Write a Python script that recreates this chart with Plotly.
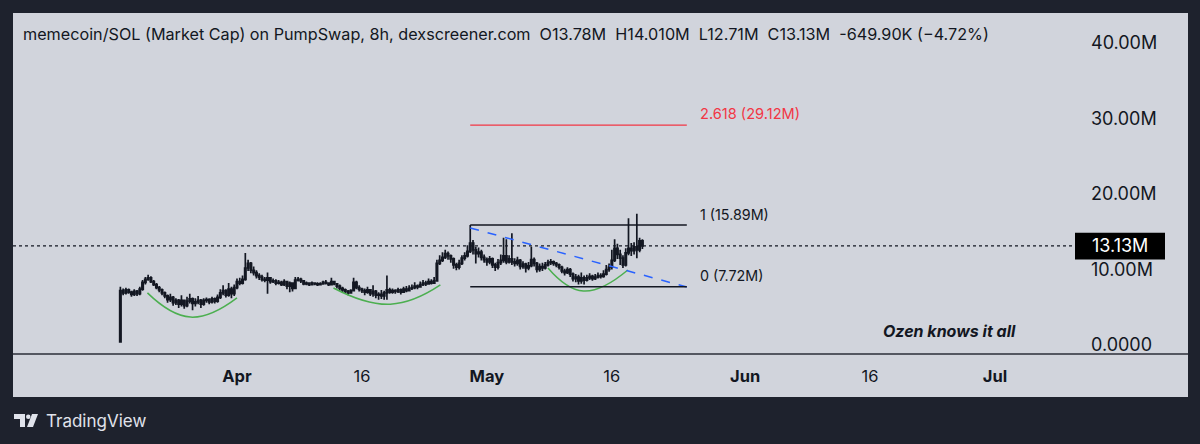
import plotly.graph_objects as go
import pandas as pd

# ---------------- DATA (values in millions, 8h candles) ----------------
start_time = "2025-03-18 00:00"
first_open = 0.4

close = [
    7.2, 6.9, 7.3,  7.0, 6.7, 7.1,  6.8, 7.4, 8.3,  8.7, 8.9, 8.4,  8.0, 7.6, 7.3,
    6.9, 6.5, 6.0,  6.3, 5.6, 5.9,  5.4, 5.9, 5.2,  5.8, 6.1, 5.5,  5.7, 5.9, 5.4,
    5.9, 6.0, 5.7,  6.1, 5.8, 6.3,  6.9, 7.2, 6.6,  7.4, 6.8, 7.6,  8.4, 8.2, 8.7,
    10.2, 10.8, 9.9,  9.6, 9.2, 9.0,  8.7, 8.6, 8.9,  8.4, 8.5, 8.2,  8.3, 8.0, 8.4,
    7.8, 8.2, 7.5,  8.6, 8.7, 8.5,  8.1, 8.2, 8.0,  8.2, 8.1, 8.0,  8.1, 8.3, 8.2,
    8.0, 8.4, 8.1,  7.8, 7.5, 7.3,  7.1, 6.9, 7.2,  8.3, 7.6, 7.4,  7.2, 7.0, 7.3,
    6.8, 7.1, 6.6,  6.7, 6.5, 6.9,  7.3, 7.0, 7.2,  7.1, 7.3, 7.0,  7.4, 7.2, 7.5,
    7.6, 7.8, 7.7,  8.0, 8.2, 8.1,  8.4, 8.2, 8.5,  10.8, 11.2, 11.6,  12.1, 11.8, 11.4,
    10.6, 10.3, 10.8,  11.5, 11.8, 12.4,  13.5, 12.6, 12.1,  12.3, 11.6, 11.3,
    11.0, 11.4, 10.6,  10.3, 10.9, 11.2,  11.8, 11.0, 11.4,  11.0, 10.8, 11.2,
    10.4, 10.7, 10.2,  10.5, 11.3, 10.8,  10.0, 10.4, 10.2,  10.6, 10.9, 11.0,
    10.8, 10.6, 10.3,  9.8, 9.6, 10.0,  9.4, 8.8, 9.0,  8.5, 8.9, 8.6,
    8.9, 9.1, 8.8,  9.0, 9.2, 9.1,  9.4, 10.0, 10.3,  11.2, 12.8, 12.0,
    11.5, 10.6, 12.2,  12.8, 12.5, 13.0,  12.6, 13.78, 13.13,
]
high = [
    7.7, 7.5, 7.6,  7.5, 7.2, 7.4,  7.3, 7.7, 8.6,  9.0, 9.3, 9.1,  8.6, 8.2, 7.8,
    7.5, 7.1, 6.7,  6.8, 6.5, 6.2,  6.1, 6.6, 6.0,  6.4, 6.8, 6.3,  6.2, 6.5, 6.1,
    6.2, 6.3, 6.2,  6.4, 6.3, 6.7,  7.4, 7.9, 7.4,  8.2, 7.7, 8.0,  8.8, 8.9, 9.2,
    12.2, 11.3, 11.0,  10.4, 9.9, 9.5,  9.3, 9.0, 9.6,  9.0, 8.8, 8.7,  8.6, 8.5, 8.7,
    8.5, 8.4, 8.3,  9.0, 9.0, 8.9,  8.6, 8.4, 8.3,  8.4, 8.3, 8.3,  8.3, 8.5, 8.6,
    8.3, 8.9, 8.5,  8.2, 8.0, 7.7,  7.5, 7.3, 7.4,  8.9, 8.5, 7.9,  7.6, 7.5, 7.7,
    7.4, 7.9, 7.3,  7.0, 7.3, 7.2,  9.2, 7.6, 7.5,  7.4, 7.6, 7.5,  7.7, 7.8, 7.9,
    8.0, 8.3, 8.0,  8.4, 8.6, 8.5,  8.8, 8.7, 9.0,  11.3, 11.9, 12.3,  12.6, 12.4, 12.0,
    11.6, 10.9, 11.3,  11.9, 12.3, 13.2,  15.89, 13.9, 13.0,  12.9, 12.6, 12.0,
    11.6, 11.8, 11.6,  10.9, 11.4, 12.0,  14.2, 14.0, 11.9,  14.8, 11.5, 11.7,
    11.4, 11.1, 10.9,  11.0, 13.0, 11.6,  11.0, 10.8, 10.9,  11.0, 11.3, 11.4,
    11.2, 11.0, 10.8,  10.5, 10.1, 10.3,  10.2, 9.6, 9.4,  9.3, 9.6, 9.2,
    9.3, 9.5, 9.3,  9.4, 9.6, 9.5,  9.9, 10.6, 10.8,  12.6, 14.0, 13.4,
    12.6, 11.9, 12.8,  16.8, 13.5, 13.6,  17.4, 14.2, 14.01,
]
low = [
    0.4, 6.6, 6.7,  6.8, 6.4, 6.5,  6.5, 6.6, 7.2,  8.0, 8.5, 8.2,  7.8, 7.4, 7.0,
    6.6, 6.2, 5.6,  5.7, 5.2, 5.3,  4.9, 5.1, 4.8,  5.0, 5.5, 4.6,  5.1, 5.4, 4.9,
    5.2, 5.6, 5.4,  5.5, 5.5, 5.6,  6.1, 6.6, 6.3,  6.4, 6.2, 6.5,  7.4, 7.9, 8.0,
    8.5, 9.8, 9.5,  9.2, 8.8, 8.6,  8.4, 8.3, 6.8,  8.1, 8.2, 7.9,  8.0, 7.8, 7.8,
    7.4, 7.0, 7.1,  7.4, 8.4, 8.2,  7.9, 7.9, 7.8,  7.9, 7.9, 7.8,  7.9, 8.0, 8.0,
    7.8, 7.9, 7.9,  7.5, 7.2, 7.0,  6.9, 6.6, 6.8,  7.1, 7.4, 7.1,  6.9, 6.6, 6.8,
    6.5, 6.4, 6.2,  6.0, 6.1, 6.0,  6.0, 6.8, 6.8,  6.8, 6.9, 6.7,  6.9, 7.0, 7.1,
    7.3, 7.4, 7.4,  7.6, 7.8, 7.8,  8.0, 8.0, 8.1,  8.4, 10.6, 11.0,  11.4, 11.3, 10.9,
    10.1, 9.9, 10.0,  10.6, 11.2, 11.6,  12.2, 12.0, 10.8,  11.6, 11.2, 10.9,
    10.5, 10.7, 10.2,  9.8, 10.0, 10.6,  10.9, 10.7, 10.8,  10.6, 10.4, 10.5,
    10.0, 10.1, 9.6,  9.9, 10.3, 10.4,  9.6, 9.7, 9.8,  10.0, 10.4, 10.6,
    10.5, 10.3, 10.0,  9.5, 9.2, 9.4,  9.0, 8.4, 8.3,  8.0, 8.1, 8.0,
    8.4, 8.6, 8.5,  8.6, 8.8, 8.8,  8.9, 9.2, 9.7,  10.0, 11.0, 11.4,
    10.6, 10.2, 10.4,  11.9, 11.8, 12.0,  11.5, 12.3, 12.71,
]

# drawing levels (from the chart's fib / trend tools)
fib_start, fib_end = "2025-04-29 00:00", "2025-05-25 00:00"
fib_levels = [15.89, 7.72]
fib_ext = 29.12
fib_labels = ["1 (15.89M)", "0 (7.72M)"]
fib_ext_label = "2.618 (29.12M)"
trend_x = ["2025-04-29 00:00", "2025-05-25 00:00"]
trend_y = [15.5, 7.68]
arcs = [
    (["2025-03-21 06:00", "2025-03-26 10:00", "2025-04-01 00:00"], [6.9, 3.7, 6.25]),
    (["2025-04-12 14:00", "2025-04-19 10:00", "2025-04-25 10:00"], [7.55, 5.4, 7.95]),
    (["2025-05-08 08:00", "2025-05-12 14:00", "2025-05-17 22:00"], [10.2, 7.15, 9.93]),
]
last_price = 13.13
y_tick_vals = [0, 10, 20, 30, 40]
y_tick_text = ["0.0000", "10.00M", "20.00M", "30.00M", "40.00M"]
x_tick_vals = ["2025-04-01", "2025-04-16", "2025-05-01", "2025-05-16",
               "2025-06-01", "2025-06-16", "2025-07-01"]
x_tick_text = ["<b>Apr</b>", "16", "<b>May</b>", "16", "<b>Jun</b>", "16", "<b>Jul</b>"]
title_text = ("memecoin/SOL (Market Cap) on PumpSwap, 8h, dexscreener.com\u00a0\u00a0"
              "O13.78M\u00a0\u00a0H14.010M\u00a0\u00a0L12.71M\u00a0\u00a0C13.13M\u00a0\u00a0"
              "-649.90K (\u22124.72%)")

# ---------------- FIGURE ----------------
times = pd.date_range(start_time, periods=len(close), freq="8h")
opens = [first_open] + close[:-1]

W, H = 1200, 444
L, R, T, B = 13, 125, 13, 90
PW, PH = W - L - R, H - T - B


def px(x):
    return (x - L) / PW


def py(y):
    return (H - B - y) / PH


INK = "#131722"
PANEL = "#d1d4dc"
FONT = "Inter, Roboto, Liberation Sans, sans-serif"

fig = go.Figure()
fig.add_trace(go.Candlestick(
    x=times, open=opens, high=high, low=low, close=close,
    increasing=dict(line=dict(color=INK, width=1.7), fillcolor=INK),
    decreasing=dict(line=dict(color=INK, width=1.7), fillcolor=INK),
    whiskerwidth=0, showlegend=False, hoverinfo="skip",
))

for ax_, ay_ in arcs:
    fig.add_trace(go.Scatter(x=ax_, y=ay_, mode="lines",
                             line=dict(color="#4caf50", width=1.5, shape="spline", smoothing=1.3),
                             showlegend=False, hoverinfo="skip"))
fig.add_trace(go.Scatter(x=trend_x, y=trend_y, mode="lines",
                         line=dict(color="#2962ff", width=1.5, dash="dash"),
                         showlegend=False, hoverinfo="skip"))

shapes = []
shapes.append(dict(type="rect", xref="paper", yref="paper", x0=px(13), x1=px(1188),
                   y0=py(397), y1=py(13), fillcolor=PANEL, line=dict(width=0), layer="below"))
shapes.append(dict(type="line", xref="paper", yref="paper", x0=px(13), x1=px(1188),
                   y0=0, y1=0, line=dict(color="#2a2e39", width=1.5)))
for lv in fib_levels:
    shapes.append(dict(type="line", xref="x", yref="y", x0=fib_start, x1=fib_end,
                       y0=lv, y1=lv, line=dict(color=INK, width=1.5)))
shapes.append(dict(type="line", xref="x", yref="y", x0=fib_start, x1=fib_end,
                   y0=fib_ext, y1=fib_ext, line=dict(color="#f23645", width=1.2)))
shapes.append(dict(type="line", xref="paper", yref="y", x0=0, x1=1, y0=last_price, y1=last_price,
                   line=dict(color=INK, width=1.2, dash="dot")))
shapes.append(dict(type="rect", xref="paper", yref="y", x0=1.0, x1=px(1165),
                   y0=last_price - 1.8, y1=last_price + 1.75,
                   fillcolor="#000000", line=dict(width=0)))
# TradingView logo (approx.)
shapes.append(dict(type="path", xref="paper", yref="paper",
                   path=(f"M {px(14)} {py(414)} L {px(25)} {py(414)} L {px(25)} {py(427)} "
                         f"L {px(20)} {py(427)} L {px(20)} {py(419)} L {px(14)} {py(419)} Z"),
                   fillcolor="#e0e3eb", line=dict(width=0)))
shapes.append(dict(type="circle", xref="paper", yref="paper",
                   x0=px(26), x1=px(30.5), y0=py(419), y1=py(414.5),
                   fillcolor="#e0e3eb", line=dict(width=0)))
shapes.append(dict(type="path", xref="paper", yref="paper",
                   path=(f"M {px(32)} {py(414)} L {px(38)} {py(414)} L {px(33)} {py(427)} "
                         f"L {px(27)} {py(427)} Z"),
                   fillcolor="#e0e3eb", line=dict(width=0)))

annotations = []
annotations.append(dict(xref="paper", yref="paper", x=px(21), y=py(34), text=title_text,
                        showarrow=False, xanchor="left", yanchor="middle",
                        font=dict(family=FONT, size=16.2, color=INK)))
for lv, lab in zip(fib_levels, fib_labels):
    annotations.append(dict(xref="x", yref="y", x=fib_end, y=lv, text=lab, showarrow=False,
                            xanchor="left", yanchor="middle", xshift=11, yshift=11,
                            font=dict(family=FONT, size=14.3, color=INK)))
annotations.append(dict(xref="x", yref="y", x=fib_end, y=fib_ext, text=fib_ext_label,
                        showarrow=False, xanchor="left", yanchor="middle", xshift=11, yshift=11,
                        font=dict(family=FONT, size=14.6, color="#f23645")))
annotations.append(dict(xref="paper", yref="y", x=(1.0 + px(1165)) / 2, y=last_price,
                        text=f"{last_price:.2f}M", showarrow=False, xanchor="center",
                        yanchor="middle", font=dict(family=FONT, size=18, color="#ffffff")))
annotations.append(dict(xref="paper", yref="paper", x=px(949), y=py(331),
                        text="<b><i>Ozen knows it all</i></b>", showarrow=False,
                        xanchor="center", yanchor="middle",
                        font=dict(family=FONT, size=16, color=INK)))
annotations.append(dict(xref="paper", yref="paper", x=px(44), y=py(421),
                        text="TradingView", showarrow=False, xanchor="left", yanchor="middle",
                        font=dict(family=FONT, size=17, color="#e0e3eb")))

fig.update_layout(
    width=W, height=H,
    margin=dict(l=L, r=R, t=T, b=B, pad=0),
    paper_bgcolor="#1e222d", plot_bgcolor=PANEL,
    shapes=shapes, annotations=annotations,
    xaxis=dict(range=["2025-03-05 02:40", "2025-07-10 14:24"], rangeslider=dict(visible=False),
               showgrid=False, zeroline=False, showline=False,
               tickmode="array", tickvals=x_tick_vals, ticktext=x_tick_text,
               ticks="", ticklabelstandoff=10,
               tickfont=dict(family=FONT, size=16.5, color=INK)),
    yaxis=dict(range=[-1.19, 43.97], side="right", showgrid=False, zeroline=False,
               showline=False, tickmode="array", tickvals=y_tick_vals, ticktext=y_tick_text,
               ticks="", ticklabelstandoff=15,
               tickfont=dict(family=FONT, size=18, color=INK)),
    hovermode=False,
)

fig.write_html("out.html", config={"displayModeBar": False},
               post_script="document.body.style.margin='0';"
                           "document.body.style.background='#1e222d';")
